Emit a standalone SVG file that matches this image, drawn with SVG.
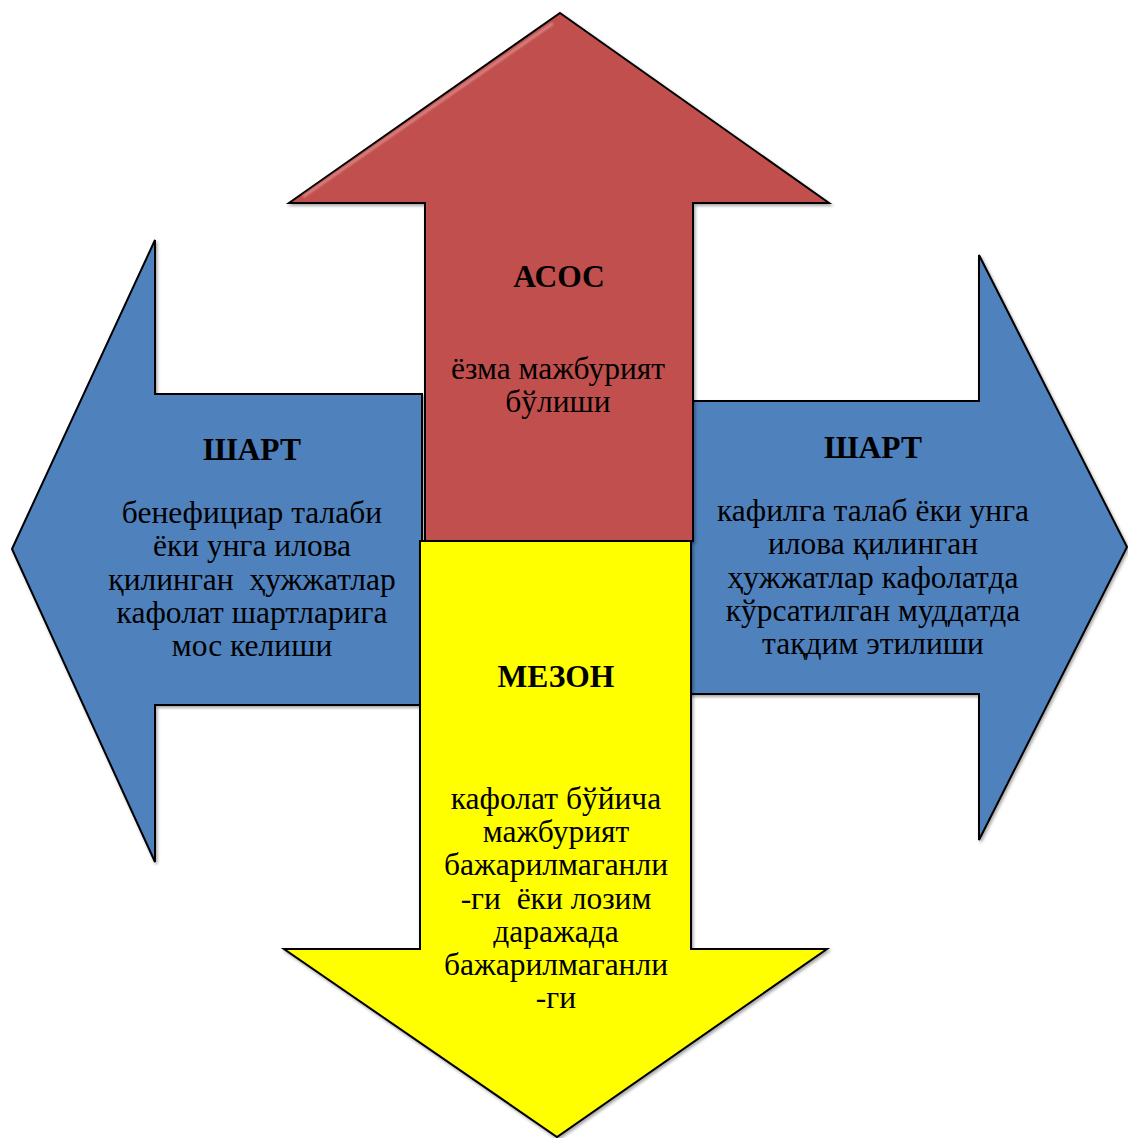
<svg xmlns="http://www.w3.org/2000/svg" width="1128" height="1138" viewBox="0 0 1128 1138">
<defs>
<style>
.shape{stroke:#000;stroke-width:2;stroke-linejoin:miter;filter:url(#sh)}
.blue{fill:#4F81BD}
.red{fill:#C0504D}
.yel{fill:#FFFF00}
.hl{fill:none;stroke-linecap:round;filter:url(#bl)}
text{font-family:'Liberation Serif','DejaVu Serif',serif;font-size:31.5px;fill:#000;text-anchor:middle;white-space:pre}
.b{font-weight:bold}
</style>
<filter id="sh" x="-5%" y="-5%" width="110%" height="110%">
<feDropShadow dx="1.5" dy="2" stdDeviation="1.5" flood-color="#000" flood-opacity="0.35"/>
</filter>
<filter id="bl" x="-10%" y="-10%" width="120%" height="120%">
<feGaussianBlur stdDeviation="1"/>
</filter>
</defs>
<rect width="1128" height="1138" fill="#fff"/>
<g id="connectors"/>
<g id="node-left">
<path class="shape blue" d="M12,549 L155,240 L155,394 L422,394 L422,705 L155,705 L155,862 Z"/>
<path class="hl" stroke="#A9CBEF" stroke-width="4" d="M148,403 L414,403"/>
<path class="hl" stroke="#A9CBEF" stroke-width="4" d="M148,697 L414,697"/>
<g font-family="Liberation Serif, DejaVu Serif, serif">
<text class="b" x="252" y="460">ШАРТ</text>
<text x="252" y="523">бенефициар талаби</text>
<text x="252" y="556">ёки унга илова</text>
<text x="252" y="590">қилинган  ҳужжатлар</text>
<text x="252" y="623">кафолат шартларига</text>
<text x="252" y="656">мос келиши</text>
</g>
</g>
<g id="node-right">
<path class="shape blue" d="M1127,547 L979,255 L979,401 L689,401 L689,694 L979,694 L979,840 Z"/>
<path class="hl" stroke="#A9CBEF" stroke-width="4" d="M698,410 L990,410"/>
<path class="hl" stroke="#A9CBEF" stroke-width="4" d="M698,685 L990,685"/>
<g font-family="Liberation Serif, DejaVu Serif, serif">
<text class="b" x="873" y="458">ШАРТ</text>
<text x="873" y="521">кафилга талаб ёки унга</text>
<text x="873" y="554">илова қилинган</text>
<text x="873" y="588">ҳужжатлар кафолатда</text>
<text x="873" y="621">кўрсатилган муддатда</text>
<text x="873" y="654">тақдим этилиши</text>
</g>
</g>
<g id="node-top">
<path class="shape red" d="M560,13 L829,203 L693,203 L693,541 L425,541 L425,203 L289,203 Z"/>
<path class="hl" stroke="#DC8C8A" stroke-width="2.5" d="M304,196 L552,24"/>
<path class="hl" stroke="#F4C0BE" stroke-width="3" d="M432,196 L432,536"/>
<path class="hl" stroke="#F4C0BE" stroke-width="3" d="M686,196 L686,536"/>
<g font-family="Liberation Serif, DejaVu Serif, serif">
<text class="b" x="559" y="287">АСОС</text>
<text x="558" y="379">ёзма мажбурият</text>
<text x="558" y="412">бўлиши</text>
</g>
</g>
<g id="node-bottom">
<path class="shape yel" d="M420,541 L691,541 L691,949 L827,949 L557,1137 L284,949 L420,949 Z"/>
<path class="hl" stroke="#FFFFC8" stroke-width="4" d="M428,552 L428,945"/>
<path class="hl" stroke="#FFFFC8" stroke-width="4" d="M683,552 L683,945"/>
<g font-family="Liberation Serif, DejaVu Serif, serif">
<text class="b" x="556" y="687">МЕЗОН</text>
<text x="556" y="809">кафолат бўйича</text>
<text x="556" y="842">мажбурият</text>
<text x="556" y="875">бажарилмаганли</text>
<text x="556" y="909">-ги  ёки лозим</text>
<text x="556" y="942">даражада</text>
<text x="556" y="975">бажарилмаганли</text>
<text x="556" y="1008">-ги</text>
</g>
</g>
</svg>
